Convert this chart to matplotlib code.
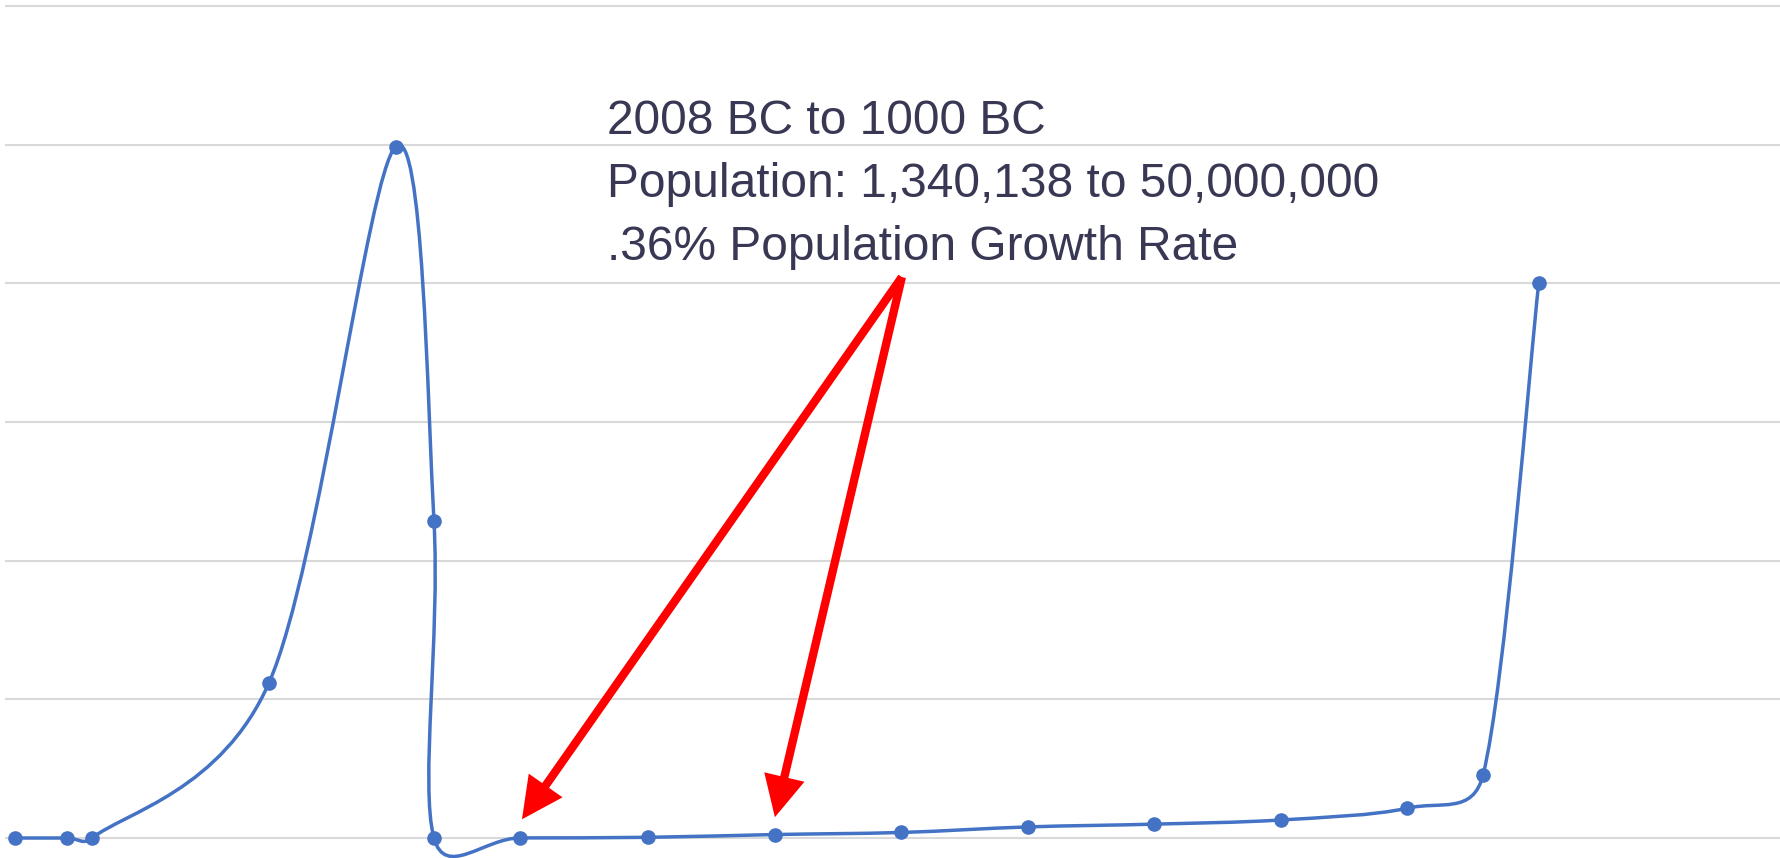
import matplotlib
matplotlib.use('Agg')
import matplotlib.pyplot as plt
import matplotlib.patheffects as pe
from matplotlib.path import Path
from matplotlib.patches import PathPatch, FancyArrowPatch
import numpy as np

# data (population in billions)
years = [-4004, -3800, -3700, -3000, -2500, -2348, -2348, -2008, -1500,
         -1000, -500, 1, 500, 1000, 1500, 1800, 2020]
population = [0.0, 0.0, 0.0, 2.24, 9.97, 4.57, 0.0, 0.00134, 0.01,
              0.05, 0.08, 0.16, 0.2, 0.26, 0.43, 0.91, 8.0]

note_lines = ['2008 BC to 1000 BC',
              'Population: 1,340,138 to 50,000,000',
              '.36% Population Growth Rate']
arrow_tail = (-498, 8.09)
arrow_tips = [(-2000, 0.27), (-1000, 0.30)]

W, H = 1780, 858
fig = plt.figure(figsize=(W / 100, H / 100), dpi=100)
ax = fig.add_axes([5 / W, 0, 1 - 5 / W, 1])
ax.set_xlim(-4044, 2974)
px_per_unit = 138.7 / 2.0
ax.set_ylim(-20 / px_per_unit, 12 + 6 / px_per_unit)
ax.set_yticks(np.arange(0, 13, 2))
ax.set_xticks([])
ax.grid(axis='y', color='#d9d9d9', lw=1.5, zorder=0)
ax.tick_params(left=False, labelleft=False)
for s in ax.spines.values():
    s.set_visible(False)


def smooth_path(ax, xs, ys):
    # excel style smoothing: cardinal bezier, tangent capped at half segment
    pts = ax.transData.transform(np.column_stack([xs, ys]))
    n = len(pts)
    verts = [pts[0]]
    codes = [Path.MOVETO]
    for i in range(n - 1):
        p0 = pts[max(i - 1, 0)]
        p1 = pts[i]
        p2 = pts[i + 1]
        p3 = pts[min(i + 2, n - 1)]
        d12 = np.hypot(*(p2 - p1))
        d02 = np.hypot(*(p2 - p0))
        d13 = np.hypot(*(p3 - p1))
        f1 = 1 / 6
        f2 = 1 / 6
        if d02 / 6 > d12 / 2:
            f1 = d12 / 2 / d02
        if d13 / 6 > d12 / 2:
            f2 = d12 / 2 / d13
        c1 = p1 + (p2 - p0) * f1
        c2 = p2 - (p3 - p1) * f2
        verts += [c1, c2, p2]
        codes += [Path.CURVE4] * 3
    verts = ax.transData.inverted().transform(np.array(verts))
    return Path(verts, codes)


ax.add_patch(PathPatch(smooth_path(ax, years, population), fill=False,
                       edgecolor='#4472C4', lw=2.5, zorder=3, clip_on=False))
ax.plot(years, population, 'o', color='#4472C4', ms=9.5, zorder=4, clip_on=False)

for tip in arrow_tips:
    arr = FancyArrowPatch(arrow_tail, tip,
                          arrowstyle='-|>,head_length=20,head_width=10',
                          mutation_scale=1, lw=6, color='#ff0000',
                          shrinkA=0, shrinkB=0, capstyle='butt',
                          joinstyle='miter', zorder=5)
    arr.set_path_effects([pe.SimplePatchShadow(offset=(2, -2), alpha=0.25,
                                               shadow_rgbFace='gray'),
                          pe.Normal()])
    ax.add_patch(arr)

baselines = [134, 197, 260]
for line, b in zip(note_lines, baselines):
    fig.text(607 / W, 1 - b / H, line, fontsize=34.5, color='#383854',
             family=['Liberation Sans', 'DejaVu Sans'], va='baseline',
             ha='left')

fig.savefig('out.png', dpi=100)
